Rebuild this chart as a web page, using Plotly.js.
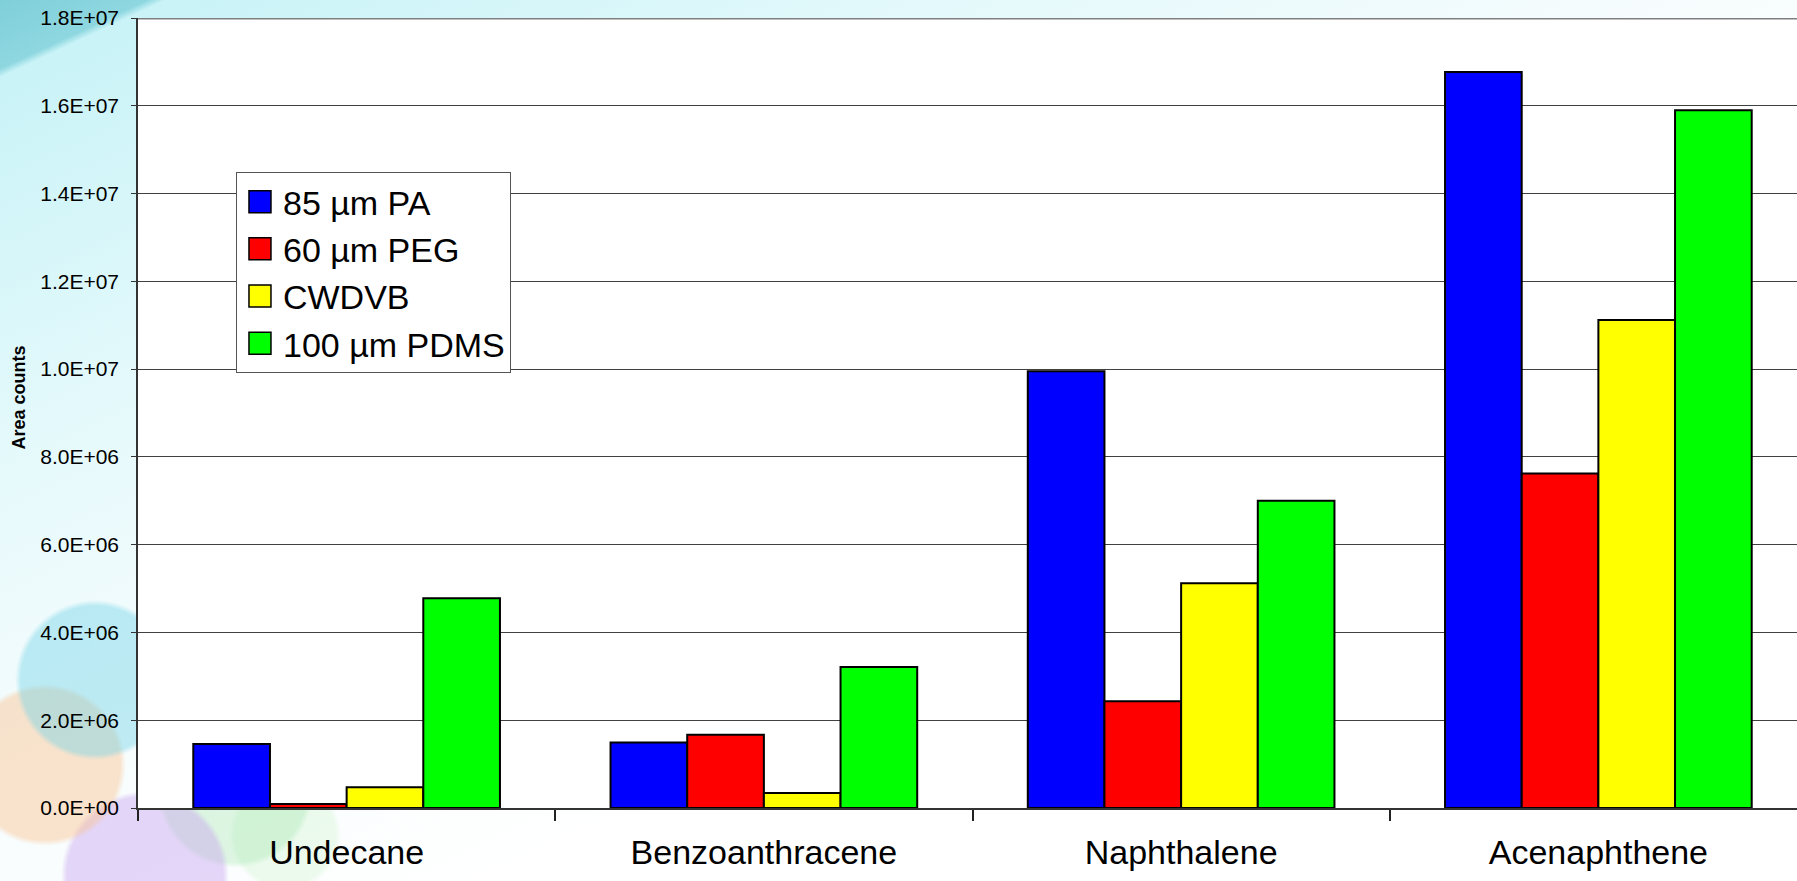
<!DOCTYPE html>
<html>
<head>
<meta charset="utf-8">
<script src="https://cdn.plot.ly/plotly-3.0.1.min.js"></script>
<style>
html, body { margin: 0; padding: 0; overflow: hidden; }
#bg {
  width: 1797px; height: 881px; position: relative; overflow: hidden;
  background:
    radial-gradient(circle at 95px 680px, rgba(110,210,230,0.42) 0, rgba(110,210,230,0.42) 74px, rgba(110,210,230,0) 80px),
    radial-gradient(circle at 45px 765px, rgba(250,195,145,0.45) 0, rgba(250,195,145,0.45) 75px, rgba(250,195,145,0) 81px),
    radial-gradient(circle at 145px 875px, rgba(200,165,240,0.45) 0, rgba(200,165,240,0.45) 78px, rgba(200,165,240,0) 84px),
    radial-gradient(circle at 235px 790px, rgba(150,225,160,0.3) 0, rgba(150,225,160,0.3) 72px, rgba(150,225,160,0) 78px),
    radial-gradient(circle at 285px 835px, rgba(190,240,190,0.28) 0, rgba(190,240,190,0.28) 50px, rgba(190,240,190,0) 56px),
    linear-gradient(155deg, #7fcfd9 0, #8ed7e0 4%, #c9f3f7 4.5%, #e3f9fb 25%, #f6fcfd 45%, #ffffff 65%);
}
#chart { width: 1807px; height: 881px; }
</style>
</head>
<body>
<div id="bg"><div id="chart"></div></div>
<script>
const categories = ['Undecane', 'Benzoanthracene', 'Naphthalene', 'Acenaphthene'];
const seriesNames = ['85 µm PA', '60 µm PEG', 'CWDVB', '100 µm PDMS'];
const pa85 = [1.46e6, 1.49e6, 9.95e6, 16.77e6];
const peg60 = [0.09e6, 1.67e6, 2.43e6, 7.62e6];
const cwdvb = [0.47e6, 0.34e6, 5.12e6, 11.12e6];
const pdms100 = [4.78e6, 3.21e6, 7.0e6, 15.9e6];
const yTickVals = [0, 2e6, 4e6, 6e6, 8e6, 1e7, 1.2e7, 1.4e7, 1.6e7, 1.8e7];
const yTickText = ['0.0E+00', '2.0E+06', '4.0E+06', '6.0E+06', '8.0E+06', '1.0E+07', '1.2E+07', '1.4E+07', '1.6E+07', '1.8E+07'];
const yTitle = 'Area counts';

const colors = ['#0000ff', '#ff0000', '#ffff00', '#00ff00'];
const values = [pa85, peg60, cwdvb, pdms100];
const FONT = 'Arial, "Liberation Sans", sans-serif';

const traces = values.map((v, i) => ({
  type: 'bar',
  name: seriesNames[i],
  x: categories,
  y: v,
  legendgroup: 'g' + i,
  marker: { color: colors[i], line: { color: '#000000', width: 2 } },
  hoverinfo: 'x+y+name'
}));

const layout = {
  width: 1807, height: 881,
  margin: { l: 138, r: 0, t: 18, b: 73, pad: 0 },
  paper_bgcolor: 'rgba(0,0,0,0)',
  plot_bgcolor: '#ffffff',
  barmode: 'group',
  bargap: 0.265,
  bargroupgap: 0,
  font: { family: FONT, color: '#000000' },
  showlegend: true,
  legend: {
    x: 0.0587, y: 0.805, xanchor: 'left', yanchor: 'top',
    bgcolor: '#ffffff', bordercolor: '#555555', borderwidth: 1,
    font: { family: FONT, size: 34, color: '#000000' },
    traceorder: 'grouped', tracegroupgap: 0,
    itemwidth: 36,
    itemclick: false, itemdoubleclick: false
  },
  xaxis: {
    type: 'category',
    tickson: 'boundaries',
    ticks: 'outside', ticklen: 11, tickwidth: 1.5, tickcolor: '#222222',
    showline: true, linecolor: '#333333', linewidth: 2,
    showgrid: false, zeroline: false,
    tickfont: { family: FONT, size: 34, color: '#000000' },
    ticklabelstandoff: 13,
    fixedrange: true
  },
  yaxis: {
    range: [0, 1.8e7],
    tickmode: 'array', tickvals: yTickVals, ticktext: yTickText,
    ticks: 'outside', ticklen: 5, tickwidth: 1.2, tickcolor: '#333333',
    showline: true, linecolor: '#333333', linewidth: 1.5,
    showgrid: true, gridcolor: '#404040', gridwidth: 1.2,
    zeroline: false,
    tickfont: { family: FONT, size: 21, color: '#000000' },
    ticklabelstandoff: 8,
    fixedrange: true
  },
  annotations: [
    { text: '<b>' + yTitle + '</b>', xref: 'paper', yref: 'paper',
      x: (18.5 - 138) / 1669, y: (808 - 398) / 790, xanchor: 'center', yanchor: 'middle',
      textangle: -90, showarrow: false,
      font: { family: FONT, size: 18, color: '#000000' } }
  ],
  shapes: [
    { type: 'line', xref: 'paper', yref: 'y', x0: 0, x1: 1, y0: 1.8e7, y1: 1.8e7,
      line: { color: '#808080', width: 3 }, layer: 'above' }
  ]
};

Plotly.newPlot('chart', traces, layout, { displayModeBar: false }).then(gd => {
  // enlarge the legend swatches to match the reference
  document.querySelectorAll('.legend .legendpoints path').forEach(p => {
    p.setAttribute('d', 'M11,11H-11V-11H11Z');
    p.style.strokeWidth = '1.5px';
  });
});
</script>
</body>
</html>
